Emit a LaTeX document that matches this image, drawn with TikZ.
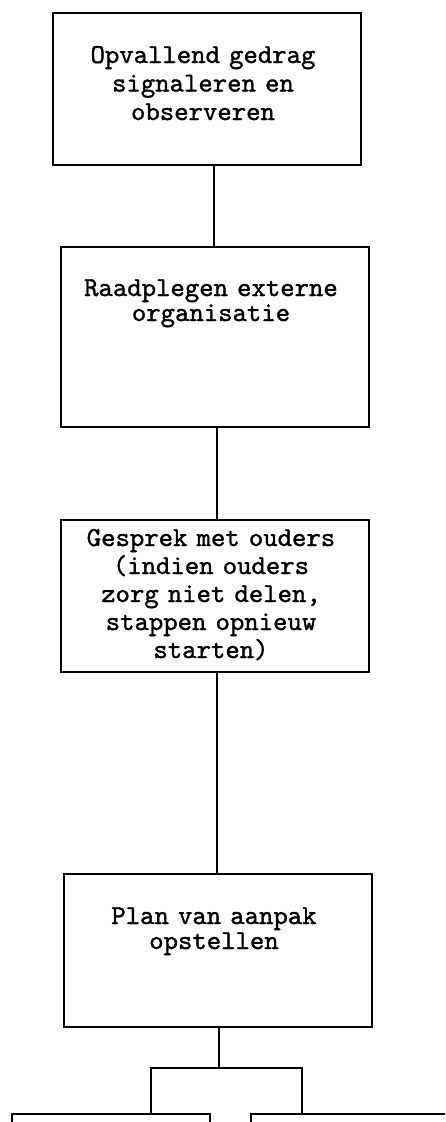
\documentclass[tikz,border=0pt]{standalone}
\usepackage{fontspec}
\newfontfamily\boxfont{lmmono10-regular}[Extension=.otf, FakeBold=1.3]
\usetikzlibrary{calc}
\begin{document}
\begin{tikzpicture}[x=1pt,y=1pt,
  stepbox/.style={draw=black, line width=2pt, rectangle, anchor=north west, inner sep=0pt, outer sep=0pt, fill=white},
  boxtext/.style={anchor=base, inner sep=0pt, text width=300pt, align=center, font=\boxfont\fontsize{27.4}{#1}\selectfont},
  link/.style={draw=black, line width=2pt}]
\useasboundingbox (0,0) rectangle (445,-1122);
\clip (0,0) rectangle (445,-1122);
% boxes
\node[stepbox, minimum width=308pt, minimum height=152pt] (b1) at (53,-13) {};
\node[stepbox, minimum width=308pt, minimum height=180pt] (b2) at (61,-247) {};
\node[stepbox, minimum width=308pt, minimum height=152pt] (b3) at (61,-520) {};
\node[stepbox, minimum width=308pt, minimum height=153pt] (b4) at (64,-874) {};
\node[stepbox, minimum width=198pt, minimum height=150pt] (bl) at (12,-1114) {};
\node[stepbox, minimum width=260pt, minimum height=150pt] (br) at (251,-1114) {};
% texts
\node[boxtext=28.5] (t1) at (203,-63) {Opvallend gedrag\\signaleren en\\observeren};
\node[boxtext=25] (t2) at (211,-296) {Raadplegen externe\\organisatie};
\node[boxtext=28] (t3) at (211,-546) {Gesprek met ouders\\(indien ouders\\zorg niet delen,\\stappen opnieuw\\starten)};
\node[boxtext=25] (t4) at (214,-924) {Plan van aanpak\\opstellen};
% connectors
\coordinate (j) at (219,-1068);
\coordinate (jl) at (151,-1068);
\coordinate (jr) at (302,-1068);
\draw[link] ([xshift=7pt]b1.south) -- ([xshift=7pt]b1.south |- b2.north);
\draw[link] ([xshift=2pt]b2.south) -- ([xshift=2pt]b2.south |- b3.north);
\draw[link] ([xshift=2pt]b3.south) -- ([xshift=2pt]b3.south |- b4.north);
\draw[link] (b4.south -| j) -- (j);
\draw[link] (jl |- bl.north) -- (jl) -- (jr) -- (jr |- br.north);
\end{tikzpicture}
\end{document}
